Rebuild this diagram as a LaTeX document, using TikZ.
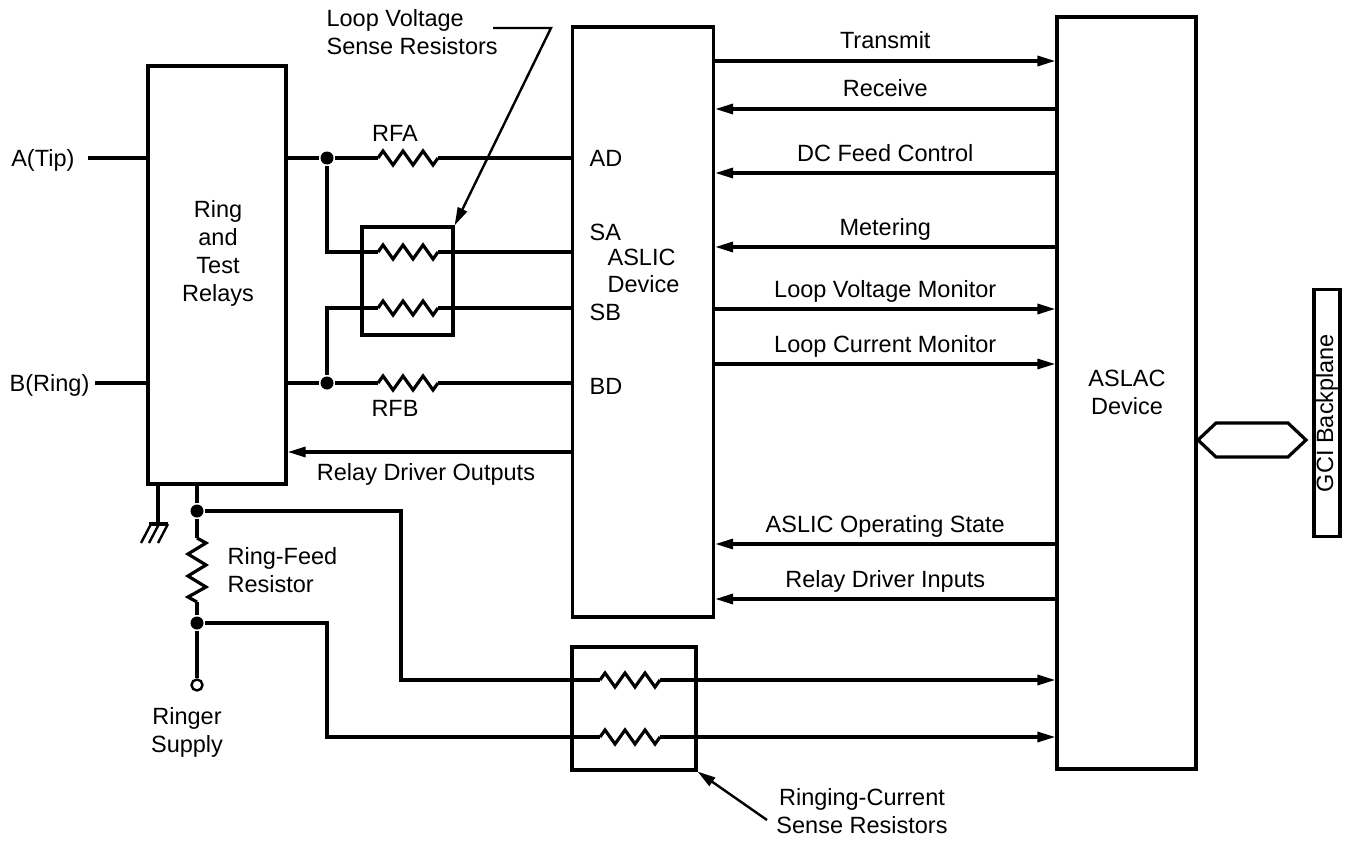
\documentclass[tikz,border=0pt]{standalone}
\usepackage{fontspec}
\setmainfont{Liberation Sans}
\usetikzlibrary{arrows.meta}
\begin{document}
\begin{tikzpicture}[x=1pt,y=-1pt, line width=3.2pt, line join=miter,
  every node/.style={font=\fontsize{23.5}{28}\selectfont},
  box/.style={draw, line width=3.2pt, inner sep=0pt},
  lbl/.style={inner sep=0pt, align=center},
  arr/.style={-{Triangle[length=18pt,width=10pt]}},
  dot/.style={circle, fill, inner sep=0pt, minimum size=13pt},
  hres/.pic={\draw (0,0) -- (5,-7) -- (15,7) -- (25,-7) -- (35,7) -- (45,-7) -- (55,7) -- (60,0);
             \coordinate (-in) at (0,0); \coordinate (-out) at (60,0);},
  vres/.pic={\draw (0,0) -- (9,5) -- (-9,16) -- (9,27) -- (-9,38) -- (9,49) -- (-9,59) -- (0,64);
             \coordinate (-in) at (0,0); \coordinate (-out) at (0,64);}
]
\useasboundingbox (0,0) rectangle (1348,840);

% main blocks
\node[box, minimum width=138pt, minimum height=418pt] (relay) at (217,275) {};
\node[lbl] (relaytxt) at (218,253) {Ring\\and\\Test\\Relays};
\node[box, minimum width=141pt, minimum height=590pt] (aslic) at (643,322) {};
\node[box, minimum width=139pt, minimum height=752pt] (aslac) at (1126.5,393) {};
\node[lbl] (aslactxt) at (1127,392) {ASLAC\\Device};
\node[box, minimum width=26pt, minimum height=247pt] (gci) at (1327,413) {};
\node[lbl, rotate=90] (gcitxt) at (1327,413) {GCI Backplane};
\draw (1198,440) -- (1216,423) -- (1288,423) -- (1306,440) -- (1288,457) -- (1216,457) -- cycle;

% ASLIC pin labels
\node[lbl, anchor=base west] (pAD) at (588,166) {AD};
\node[lbl, anchor=base west] (pSA) at (588,240) {SA};
\node[lbl, anchor=base west] (pASLIC) at (606,265) {ASLIC};
\node[lbl, anchor=base west] (pDev) at (606,292) {Device};
\node[lbl, anchor=base west] (pSB) at (588,320) {SB};
\node[lbl, anchor=base west] (pBD) at (588,394) {BD};

% tip / ring inputs
\node[lbl, anchor=base east] (atip) at (76,166) {A(Tip)};
\node[lbl, anchor=base east] (bring) at (91,391) {B(Ring)};
\coordinate (aend) at (88,158);
\coordinate (bend) at (95,383);
\draw (aend) -- (relay.west |- aend);
\draw (bend) -- (relay.west |- bend);

% feed and sense resistors
\node[dot] (jA) at (327,158) {};
\node[dot] (jB) at (327,383) {};
\pic (rfa) at (378,158) {hres};
\pic (rsa) at (378,252) {hres};
\pic (rsb) at (378,308) {hres};
\pic (rfb) at (378,383) {hres};
\coordinate (sa0) at (327,252);
\coordinate (sb0) at (327,308);
\draw (relay.east |- jA) -- (jA) -- (rfa-in);
\draw (rfa-out) -- (aslic.west |- rfa-out);
\draw (jA) -- (sa0) -- (rsa-in);
\draw (rsa-out) -- (aslic.west |- rsa-out);
\draw (jB) -- (sb0) -- (rsb-in);
\draw (rsb-out) -- (aslic.west |- rsb-out);
\draw (relay.east |- jB) -- (jB) -- (rfb-in);
\draw (rfb-out) -- (aslic.west |- rfb-out);
\node[lbl, anchor=base] (rfatxt) at (395,142) {RFA};
\node[lbl, anchor=base] (rfbtxt) at (395,416) {RFB};

\node[box, minimum width=91pt, minimum height=108pt] (lvbox) at (407.5,281) {};
\node[lbl, anchor=base west, align=left] (lvtxt) at (325,55) {Loop Voltage\\Sense Resistors};
\coordinate (lv1) at (493,28);
\coordinate (lv2) at (551,28);
\draw[arr, line width=2.4pt] (lv1) -- (lv2) -- (lvbox.north east);

% relay driver outputs
\coordinate (rdo) at (0,452);
\draw[arr] (aslic.west |- rdo) -- (relay.east |- rdo);
\node[lbl, anchor=base] (rdotxt) at (426,480) {Relay Driver Outputs};

% ASLIC <-> ASLAC signals
\foreach \yy/\txt/\dir [count=\i] in {61/Transmit/r, 109/Receive/l, 173/DC Feed Control/l, 247/Metering/l,
   309/Loop Voltage Monitor/r, 364/Loop Current Monitor/r, 544/ASLIC Operating State/l, 599/Relay Driver Inputs/l}{
  \coordinate (s\i) at (0,\yy);
  \if r\dir
    \draw[arr] (aslic.east |- s\i) -- (aslac.west |- s\i) node[lbl, midway, anchor=base, yshift=12pt] (sig\i) {\txt};
  \else
    \draw[arr] (aslac.west |- s\i) -- (aslic.east |- s\i) node[lbl, midway, anchor=base, yshift=12pt] (sig\i) {\txt};
  \fi
}

% ground
\coordinate (g0) at (158,524);
\draw (relay.south -| g0) -- (g0);
\draw (149,524) -- (168,524);
\draw[line width=2.4pt] (151,524) -- (141,543) (159,524) -- (149,543) (168,524) -- (158,543);

% ring feed
\node[dot] (jR1) at (197,511) {};
\node[dot] (jR2) at (197,623) {};
\pic (rfr) at (197,538) {vres};
\node[circle, draw, line width=2.4pt, minimum size=11pt, inner sep=0pt] (ringer) at (197,685) {};
\draw (relay.south -| jR1) -- (jR1) -- (rfr-in);
\draw (rfr-out) -- (jR2) -- (ringer);
\node[lbl, anchor=base west, align=left] (rftxt) at (226,592) {Ring-Feed\\Resistor};
\node[lbl, anchor=base] (ringertxt) at (187,752) {Ringer\\Supply};

% ringing current sense
\pic (rc1) at (600,680) {hres};
\pic (rc2) at (600,737) {hres};
\coordinate (b1) at (401,511);
\coordinate (b2) at (401,680);
\coordinate (b3) at (327,623);
\coordinate (b4) at (327,737);
\draw (jR1) -- (b1) -- (b2) -- (rc1-in);
\draw[arr] (rc1-out) -- (aslac.west |- rc1-out);
\draw (jR2) -- (b3) -- (b4) -- (rc2-in);
\draw[arr] (rc2-out) -- (aslac.west |- rc2-out);
\node[box, minimum width=124pt, minimum height=123pt] (rcbox) at (634,708.5) {};
\coordinate (rcl) at (767,820);
\draw[arr, line width=2.4pt] (rcl) -- (rcbox.south east);
\node[lbl, anchor=base] (rctxt) at (862,833) {Ringing-Current\\Sense Resistors};
\end{tikzpicture}
\end{document}
